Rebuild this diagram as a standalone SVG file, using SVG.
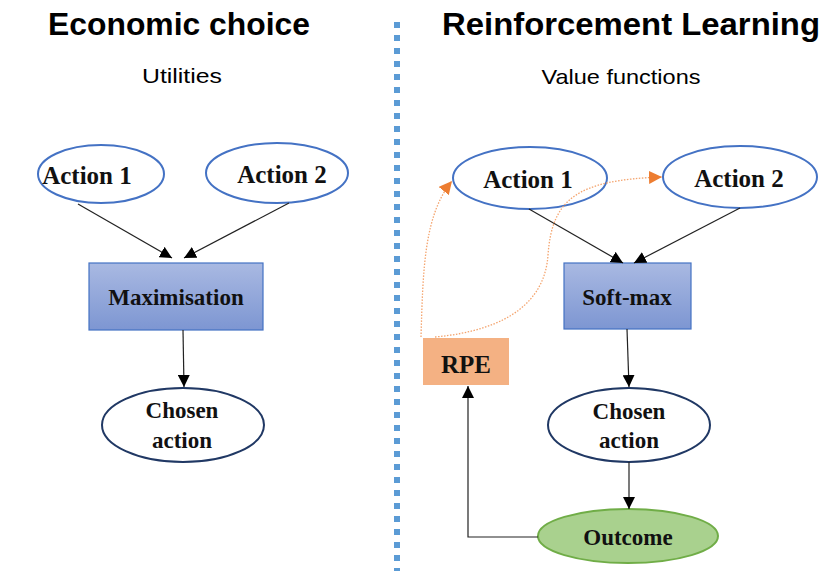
<svg xmlns="http://www.w3.org/2000/svg" width="827" height="571" viewBox="0 0 827 571">
  <defs>
    <linearGradient id="boxFill" x1="0" y1="0" x2="0" y2="1">
      <stop offset="0" stop-color="#a9b9e2"/>
      <stop offset="1" stop-color="#7d96d2"/>
    </linearGradient>
    <marker id="arrowBlack" viewBox="0 0 10 10" refX="10" refY="5" markerWidth="12" markerHeight="12" markerUnits="userSpaceOnUse" orient="auto">
      <path d="M0,0 L10,5 L0,10 Z" fill="#000"/>
    </marker>
    <marker id="arrowOrange" viewBox="0 0 10 10" refX="10" refY="5" markerWidth="13" markerHeight="13" markerUnits="userSpaceOnUse" orient="auto">
      <path d="M0,0 L10,5 L0,10 Z" fill="#ed7d31"/>
    </marker>
  </defs>
  <style>
    .title { font-family: "Liberation Sans", "Open Sans", sans-serif; font-weight: bold; font-size: 32px; fill: #000; }
    .sub { font-family: "Liberation Sans", "Open Sans", sans-serif; font-size: 21px; fill: #000; }
    .lbl { font-family: "Liberation Serif", "DejaVu Serif", serif; font-weight: bold; font-size: 23px; fill: #111; text-anchor: middle; }
    .big { font-size: 25px; }
    .act { fill: #fff; stroke: #4472c4; stroke-width: 2; }
    .chosen { fill: #fff; stroke: #203864; stroke-width: 2; }
    .box { fill: url(#boxFill); stroke: #4472c4; stroke-width: 1.2; }
    .edge { fill: none; stroke: #222; stroke-width: 1.2; marker-end: url(#arrowBlack); }
    .rpeEdge { fill: none; stroke: #f4a46e; stroke-width: 1.3; stroke-dasharray: 1.5 1.5; marker-end: url(#arrowOrange); }
  </style>

  <rect width="827" height="571" fill="#fff"/>

  <!-- headings -->
  <text class="title" x="179" y="35" text-anchor="middle" textLength="262" lengthAdjust="spacingAndGlyphs">Economic choice</text>
  <text class="sub" x="182" y="83" text-anchor="middle" textLength="80" lengthAdjust="spacingAndGlyphs">Utilities</text>
  <text class="title" x="631" y="35" text-anchor="middle" textLength="378" lengthAdjust="spacingAndGlyphs">Reinforcement  Learning</text>
  <text class="sub" x="621" y="84" text-anchor="middle" textLength="159" lengthAdjust="spacingAndGlyphs">Value functions</text>

  <!-- divider -->
  <line x1="397" y1="22" x2="397" y2="571" stroke="#5b9bd5" stroke-width="6" stroke-dasharray="6 7"/>

  <!-- economic choice -->
  <g id="ec-action1">
    <ellipse class="act" cx="101" cy="174" rx="63" ry="29"/>
    <text class="lbl big" x="87" y="184">Action 1</text>
  </g>
  <g id="ec-action2">
    <ellipse class="act" cx="277" cy="173" rx="71" ry="30"/>
    <text class="lbl big" x="282" y="183">Action 2</text>
  </g>
  <g id="ec-max">
    <rect class="box" x="89" y="263" width="174" height="67"/>
    <text class="lbl" x="176" y="305">Maximisation</text>
  </g>
  <g id="ec-chosen">
    <ellipse class="chosen" cx="183" cy="425" rx="81" ry="37"/>
    <text class="lbl" x="182" y="418">Chosen</text>
    <text class="lbl" x="182" y="448">action</text>
  </g>

  <!-- reinforcement learning -->
  <g id="rl-action1">
    <ellipse class="act" cx="530" cy="178" rx="77" ry="31"/>
    <text class="lbl big" x="528" y="188">Action 1</text>
  </g>
  <g id="rl-action2">
    <ellipse class="act" cx="740" cy="177" rx="77" ry="31"/>
    <text class="lbl big" x="739" y="187">Action 2</text>
  </g>
  <g id="rl-softmax">
    <rect class="box" x="564" y="263" width="127" height="66"/>
    <text class="lbl" x="627" y="305">Soft-max</text>
  </g>
  <g id="rl-chosen">
    <ellipse class="chosen" cx="629" cy="425" rx="81" ry="37"/>
    <text class="lbl" x="629" y="419">Chosen</text>
    <text class="lbl" x="629" y="448">action</text>
  </g>
  <g id="rl-outcome">
    <ellipse cx="628" cy="536" rx="90" ry="27" fill="#a9d18e" stroke="#70ad47" stroke-width="2"/>
    <text class="lbl" x="628" y="545">Outcome</text>
  </g>
  <g id="rl-rpe">
    <rect x="423" y="338" width="86" height="47" fill="#f4b183"/>
    <text class="lbl big" x="466" y="373">RPE</text>
  </g>

  <!-- connectors (drawn on top so the dotted update paths cross the nodes) -->
  <g id="connectors">
    <line class="edge" x1="78" y1="204" x2="172" y2="258"/>
    <line class="edge" x1="289" y1="203" x2="184" y2="258"/>
    <line class="edge" x1="183" y1="330" x2="184" y2="387"/>
    <line class="edge" x1="529" y1="209" x2="623" y2="263"/>
    <line class="edge" x1="740" y1="208" x2="634" y2="263"/>
    <line class="edge" x1="627" y1="329" x2="629" y2="387"/>
    <line class="edge" x1="629" y1="462" x2="629" y2="509"/>
    <polyline class="edge" points="538,537 468,537 468,386"/>
    <path class="rpeEdge" d="M421,337 C423,270 424,215 452,181"/>
    <path class="rpeEdge" d="M435,337 C510,330 545,300 548,255 C552,200 575,180 662,177"/>
  </g>
</svg>
